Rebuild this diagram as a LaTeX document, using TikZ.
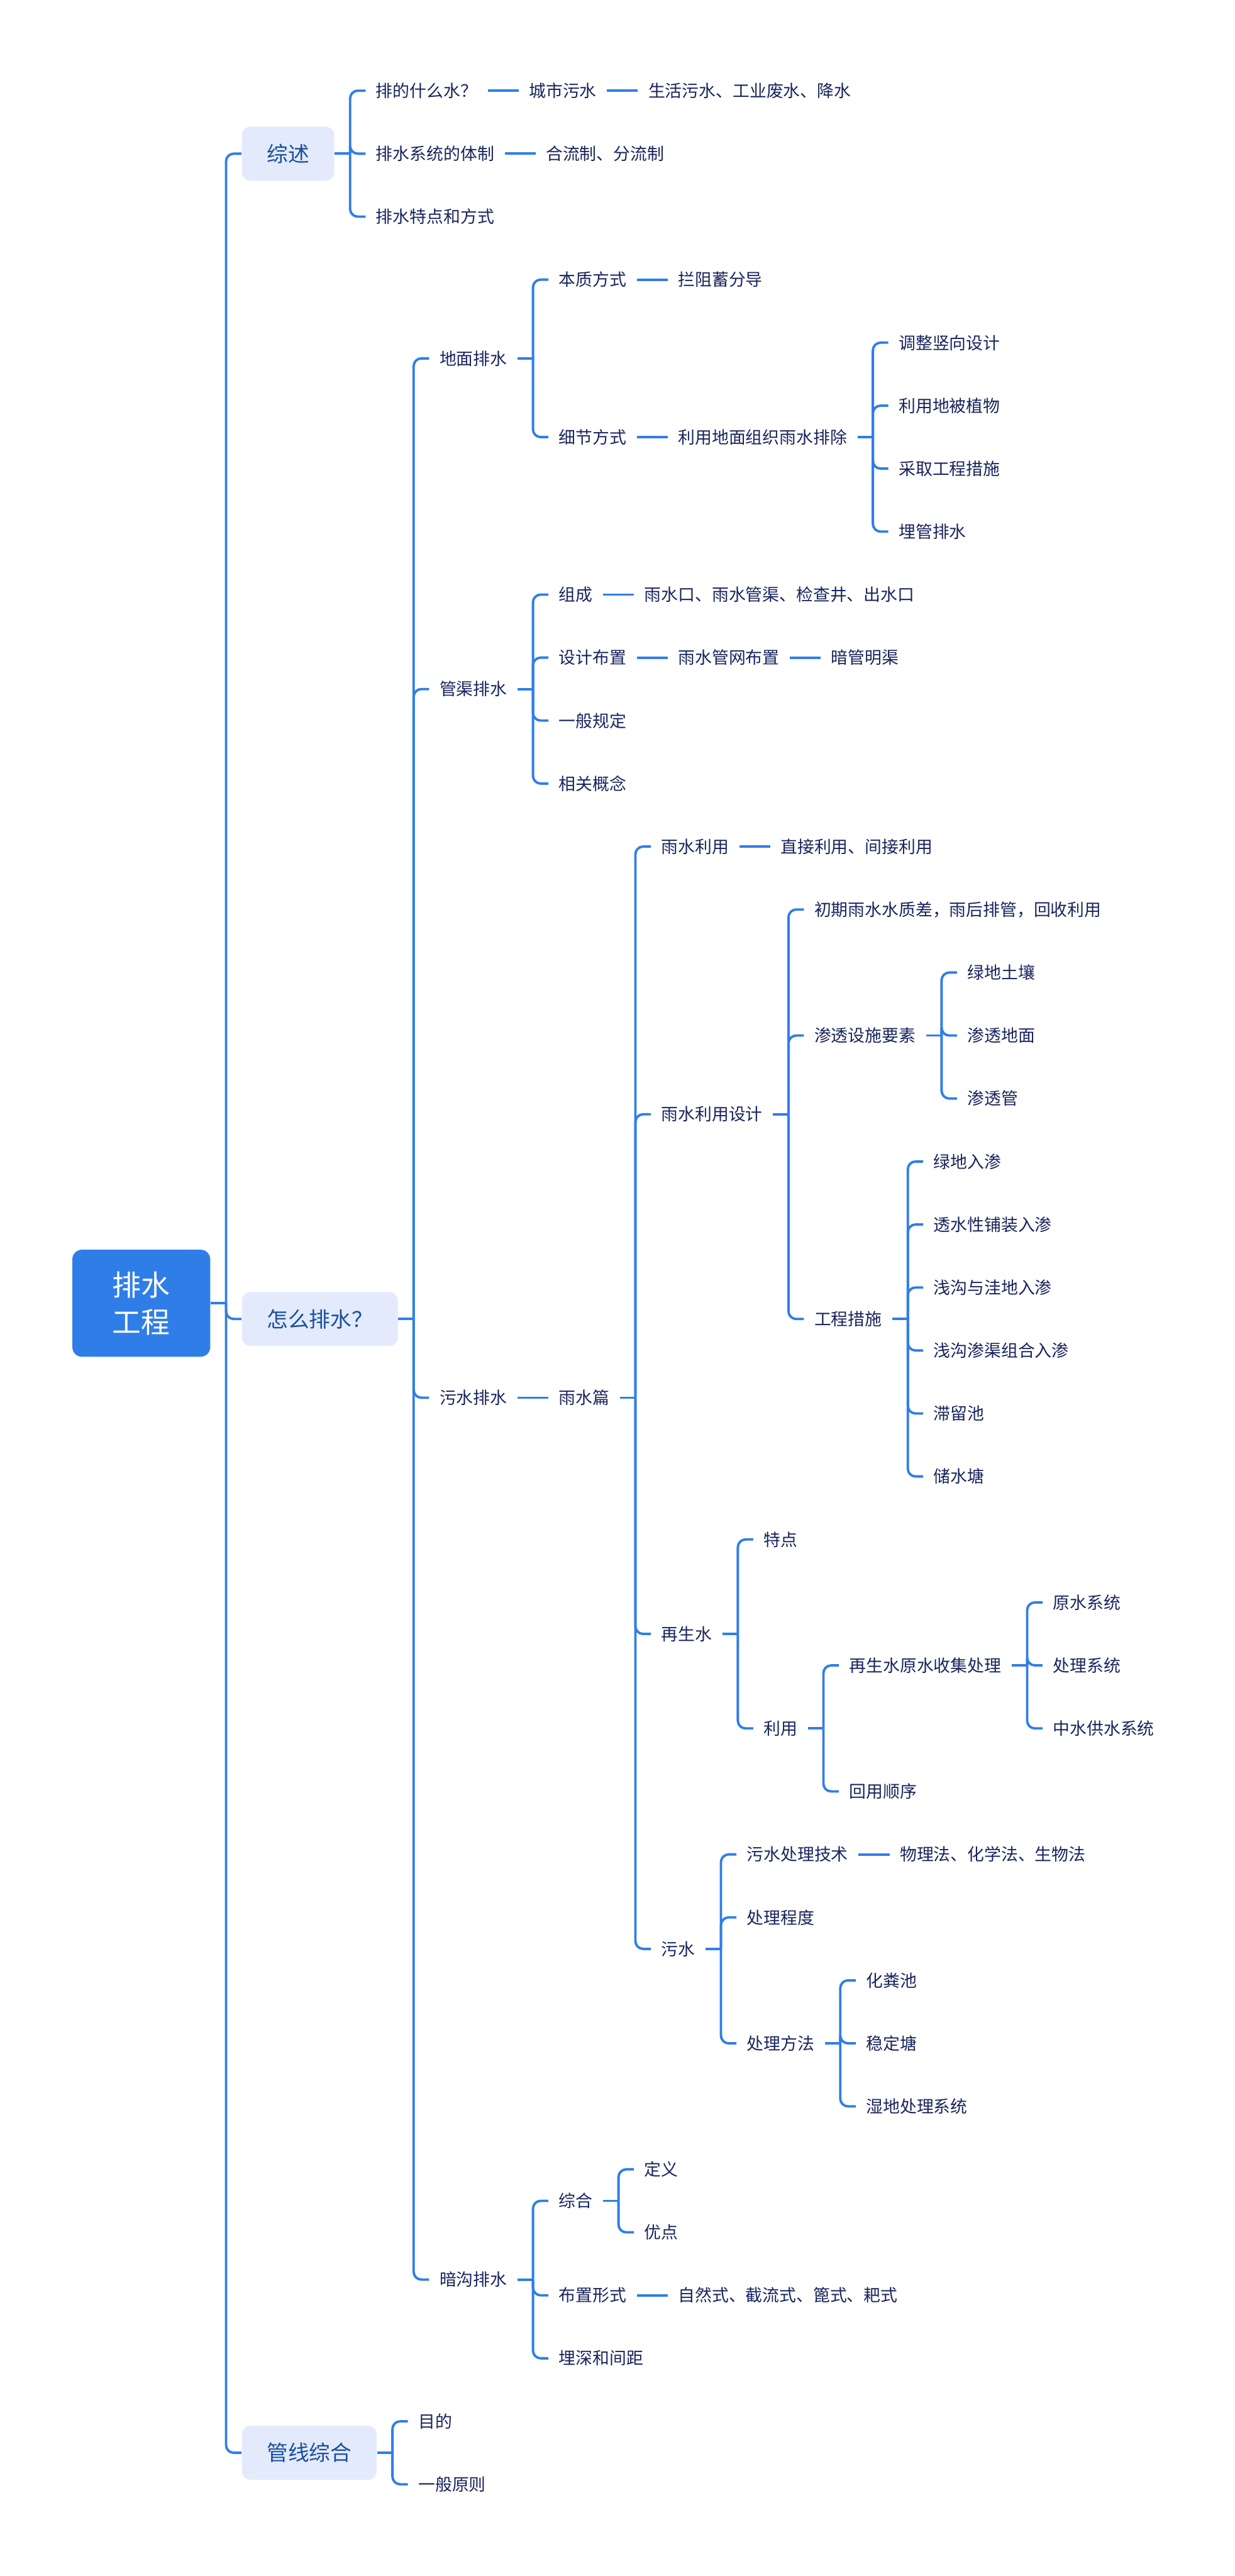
\documentclass[tikz,border=0pt]{standalone}
\usepackage{fontspec}
\setmainfont{Noto Sans CJK SC}
\usepackage{tikz}
\usetikzlibrary{calc,positioning}
\definecolor{mblue}{RGB}{47,126,232}
\definecolor{mpale}{RGB}{226,234,251}
\definecolor{mtopic}{RGB}{26,78,158}
\definecolor{mink}{RGB}{24,36,92}
\tikzset{
    rootbox/.style={
        rectangle,
        rounded corners=0.2cm,
        fill=mblue,
        text=white,
        align=center,
        minimum width=2.86cm,
        minimum height=2.22cm,
        font={\fontsize{17pt}{21.9pt}\selectfont}
    },
    topic/.style={
        rectangle,
        rounded corners=0.18cm,
        fill=mpale,
        text=mtopic,
        anchor=west,
        inner xsep=0.52cm,
        minimum height=1.12cm,
        font={\fontsize{12.5pt}{15pt}\selectfont}
    },
    leaf/.style={
        anchor=west,
        inner xsep=0.21cm,
        inner ysep=0.1cm,
        text=mink,
        font={\fontsize{9.96pt}{12pt}\selectfont}
    },
    link/.style={draw=mblue, line width=0.05cm, rounded corners=0.16cm},
}

\begin{document}
\begin{tikzpicture}[x=1cm, y=-1.306cm]
        \useasboundingbox (0,-1.4395) rectangle (25.6,39.4564);

        % root and main topics
        \node [rootbox] (root) at (2.93, 19.25) {排水\\工程};
        \node [topic] (zs) at ($(root.east |- 0,1)+(0.64,0)$) {综述};
        \node [topic] (zm) at ($(root.east |- 0,19.5)+(0.64,0)$) {怎么排水？};
        \node [topic] (gx) at ($(root.east |- 0,37.5)+(0.64,0)$) {管线综合};

        % 综述
        \node [leaf] (zs1) at ($(zs.east |- 0,0)+(0.64,0)$) {排的什么水？};
        \node [leaf] (zs2) at ($(zs.east |- 0,1)+(0.64,0)$) {排水系统的体制};
        \node [leaf] (zs3) at ($(zs.east |- 0,2)+(0.64,0)$) {排水特点和方式};
        \node [leaf] (zs1a) at ($(zs1.east)+(0.64,0)$) {城市污水};
        \node [leaf] (zs1b) at ($(zs1a.east)+(0.64,0)$) {生活污水、工业废水、降水};
        \node [leaf] (zs2a) at ($(zs2.east)+(0.64,0)$) {合流制、分流制};

        % 怎么排水
        \node [leaf] (dm) at ($(zm.east |- 0,4.25)+(0.64,0)$) {地面排水};
        \node [leaf] (gq) at ($(zm.east |- 0,9.5)+(0.64,0)$) {管渠排水};
        \node [leaf] (ws) at ($(zm.east |- 0,20.75)+(0.64,0)$) {污水排水};
        \node [leaf] (ag) at ($(zm.east |- 0,34.75)+(0.64,0)$) {暗沟排水};

        \node [leaf] (dm1) at ($(dm.east |- 0,3)+(0.64,0)$) {本质方式};
        \node [leaf] (dm2) at ($(dm.east |- 0,5.5)+(0.64,0)$) {细节方式};
        \node [leaf] (dm1a) at ($(dm1.east)+(0.64,0)$) {拦阻蓄分导};
        \node [leaf] (dm2a) at ($(dm2.east)+(0.64,0)$) {利用地面组织雨水排除};
        \node [leaf] (dm2a1) at ($(dm2a.east |- 0,4)+(0.64,0)$) {调整竖向设计};
        \node [leaf] (dm2a2) at ($(dm2a.east |- 0,5)+(0.64,0)$) {利用地被植物};
        \node [leaf] (dm2a3) at ($(dm2a.east |- 0,6)+(0.64,0)$) {采取工程措施};
        \node [leaf] (dm2a4) at ($(dm2a.east |- 0,7)+(0.64,0)$) {埋管排水};

        \node [leaf] (gq1) at ($(gq.east |- 0,8)+(0.64,0)$) {组成};
        \node [leaf] (gq2) at ($(gq.east |- 0,9)+(0.64,0)$) {设计布置};
        \node [leaf] (gq3) at ($(gq.east |- 0,10)+(0.64,0)$) {一般规定};
        \node [leaf] (gq4) at ($(gq.east |- 0,11)+(0.64,0)$) {相关概念};
        \node [leaf] (gq1a) at ($(gq1.east)+(0.64,0)$) {雨水口、雨水管渠、检查井、出水口};
        \node [leaf] (gq2a) at ($(gq2.east)+(0.64,0)$) {雨水管网布置};
        \node [leaf] (gq2b) at ($(gq2a.east)+(0.64,0)$) {暗管明渠};

        \node [leaf] (ysp) at ($(ws.east)+(0.64,0)$) {雨水篇};
        \node [leaf] (yl) at ($(ysp.east |- 0,12)+(0.64,0)$) {雨水利用};
        \node [leaf] (yd) at ($(ysp.east |- 0,16.25)+(0.64,0)$) {雨水利用设计};
        \node [leaf] (zsw) at ($(ysp.east |- 0,24.5)+(0.64,0)$) {再生水};
        \node [leaf] (wsw) at ($(ysp.east |- 0,29.5)+(0.64,0)$) {污水};
        \node [leaf] (yla) at ($(yl.east)+(0.64,0)$) {直接利用、间接利用};

        \node [leaf] (yd1) at ($(yd.east |- 0,13)+(0.64,0)$) {初期雨水水质差，雨后排管，回收利用};
        \node [leaf] (yd2) at ($(yd.east |- 0,15)+(0.64,0)$) {渗透设施要素};
        \node [leaf] (yd3) at ($(yd.east |- 0,19.5)+(0.64,0)$) {工程措施};
        \node [leaf] (yd2a) at ($(yd2.east |- 0,14)+(0.64,0)$) {绿地土壤};
        \node [leaf] (yd2b) at ($(yd2.east |- 0,15)+(0.64,0)$) {渗透地面};
        \node [leaf] (yd2c) at ($(yd2.east |- 0,16)+(0.64,0)$) {渗透管};
        \node [leaf] (yd3a) at ($(yd3.east |- 0,17)+(0.64,0)$) {绿地入渗};
        \node [leaf] (yd3b) at ($(yd3.east |- 0,18)+(0.64,0)$) {透水性铺装入渗};
        \node [leaf] (yd3c) at ($(yd3.east |- 0,19)+(0.64,0)$) {浅沟与洼地入渗};
        \node [leaf] (yd3d) at ($(yd3.east |- 0,20)+(0.64,0)$) {浅沟渗渠组合入渗};
        \node [leaf] (yd3e) at ($(yd3.east |- 0,21)+(0.64,0)$) {滞留池};
        \node [leaf] (yd3f) at ($(yd3.east |- 0,22)+(0.64,0)$) {储水塘};

        \node [leaf] (zt) at ($(zsw.east |- 0,23)+(0.64,0)$) {特点};
        \node [leaf] (zy) at ($(zsw.east |- 0,26)+(0.64,0)$) {利用};
        \node [leaf] (zy1) at ($(zy.east |- 0,25)+(0.64,0)$) {再生水原水收集处理};
        \node [leaf] (zy2) at ($(zy.east |- 0,27)+(0.64,0)$) {回用顺序};
        \node [leaf] (zy1a) at ($(zy1.east |- 0,24)+(0.64,0)$) {原水系统};
        \node [leaf] (zy1b) at ($(zy1.east |- 0,25)+(0.64,0)$) {处理系统};
        \node [leaf] (zy1c) at ($(zy1.east |- 0,26)+(0.64,0)$) {中水供水系统};

        \node [leaf] (wj) at ($(wsw.east |- 0,28)+(0.64,0)$) {污水处理技术};
        \node [leaf] (wc) at ($(wsw.east |- 0,29)+(0.64,0)$) {处理程度};
        \node [leaf] (wf) at ($(wsw.east |- 0,31)+(0.64,0)$) {处理方法};
        \node [leaf] (wja) at ($(wj.east)+(0.64,0)$) {物理法、化学法、生物法};
        \node [leaf] (wf1) at ($(wf.east |- 0,30)+(0.64,0)$) {化粪池};
        \node [leaf] (wf2) at ($(wf.east |- 0,31)+(0.64,0)$) {稳定塘};
        \node [leaf] (wf3) at ($(wf.east |- 0,32)+(0.64,0)$) {湿地处理系统};

        \node [leaf] (ag1) at ($(ag.east |- 0,33.5)+(0.64,0)$) {综合};
        \node [leaf] (ag2) at ($(ag.east |- 0,35)+(0.64,0)$) {布置形式};
        \node [leaf] (ag3) at ($(ag.east |- 0,36)+(0.64,0)$) {埋深和间距};
        \node [leaf] (ag1a) at ($(ag1.east |- 0,33)+(0.64,0)$) {定义};
        \node [leaf] (ag1b) at ($(ag1.east |- 0,34)+(0.64,0)$) {优点};
        \node [leaf] (ag2a) at ($(ag2.east)+(0.64,0)$) {自然式、截流式、篦式、耙式};

        % 管线综合
        \node [leaf] (gx1) at ($(gx.east |- 0,37)+(0.64,0)$) {目的};
        \node [leaf] (gx2) at ($(gx.east |- 0,38)+(0.64,0)$) {一般原则};

        % forks: stub to a bar, then one bend per child
        \foreach \p/\kids in {root/{zs,zm,gx}, zs/{zs1,zs2,zs3}, zm/{dm,gq,ws,ag},
                dm/{dm1,dm2}, dm2a/{dm2a1,dm2a2,dm2a3,dm2a4}, gq/{gq1,gq2,gq3,gq4},
                ysp/{yl,yd,zsw,wsw}, yd/{yd1,yd2,yd3}, yd2/{yd2a,yd2b,yd2c},
                yd3/{yd3a,yd3b,yd3c,yd3d,yd3e,yd3f}, zsw/{zt,zy}, zy/{zy1,zy2},
                zy1/{zy1a,zy1b,zy1c}, wsw/{wj,wc,wf}, wf/{wf1,wf2,wf3},
                ag/{ag1,ag2,ag3}, ag1/{ag1a,ag1b}, gx/{gx1,gx2}} {
            \draw [link] (\p.east) -- ++(0.32,0) coordinate (\p-j);
            \foreach \k in \kids
                \draw [link] (\p-j) |- (\k.west);
        }

        % single links
        \foreach \a/\b in {zs1/zs1a, zs1a/zs1b, zs2/zs2a, dm1/dm1a, dm2/dm2a,
                gq1/gq1a, gq2/gq2a, gq2a/gq2b, ws/ysp, yl/yla, wj/wja, ag2/ag2a}
            \draw [link] (\a.east) -- (\b.west);
\end{tikzpicture}
\end{document}
